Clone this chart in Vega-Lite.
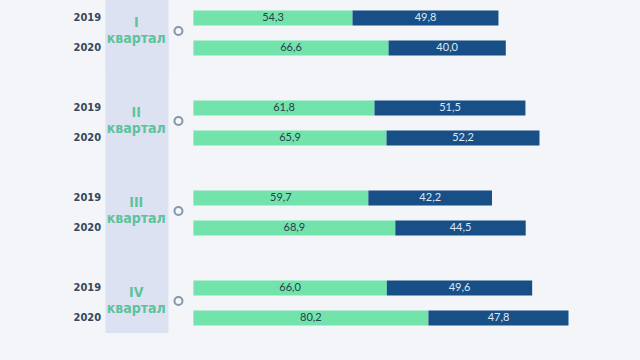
{
  "$schema": "https://vega.github.io/schema/vega-lite/v6.json",
  "width": 640,
  "height": 360,
  "autosize": {"type": "none"},
  "padding": 0,
  "background": "#f3f5f8",
  "config": {
    "view": {"stroke": null},
    "locale": {"number": {"decimal": ",", "thousands": " ", "grouping": [3], "currency": ["", ""]}}
  },
  "datasets": {
    "bars": [
      {"quarter": "I", "year": "2019", "series": "a", "value": 54.3},
      {"quarter": "I", "year": "2019", "series": "b", "value": 49.8},
      {"quarter": "I", "year": "2020", "series": "a", "value": 66.6},
      {"quarter": "I", "year": "2020", "series": "b", "value": 40.0},
      {"quarter": "II", "year": "2019", "series": "a", "value": 61.8},
      {"quarter": "II", "year": "2019", "series": "b", "value": 51.5},
      {"quarter": "II", "year": "2020", "series": "a", "value": 65.9},
      {"quarter": "II", "year": "2020", "series": "b", "value": 52.2},
      {"quarter": "III", "year": "2019", "series": "a", "value": 59.7},
      {"quarter": "III", "year": "2019", "series": "b", "value": 42.2},
      {"quarter": "III", "year": "2020", "series": "a", "value": 68.9},
      {"quarter": "III", "year": "2020", "series": "b", "value": 44.5},
      {"quarter": "IV", "year": "2019", "series": "a", "value": 66.0},
      {"quarter": "IV", "year": "2019", "series": "b", "value": 49.6},
      {"quarter": "IV", "year": "2020", "series": "a", "value": 80.2},
      {"quarter": "IV", "year": "2020", "series": "b", "value": 47.8}
    ],
    "quarters": [
      {"quarter": "I", "label": "I\nквартал"},
      {"quarter": "II", "label": "II\nквартал"},
      {"quarter": "III", "label": "III\nквартал"},
      {"quarter": "IV", "label": "IV\nквартал"}
    ],
    "band": [{"name": "band"}]
  },
  "layer": [
    {
      "data": {"name": "band"},
      "mark": {"type": "rect", "color": "#dde2f3"},
      "encoding": {
        "x": {"datum": -30, "type": "quantitative", "scale": {"domain": [-66, 152.4], "nice": false, "zero": false}, "axis": null},
        "x2": {"datum": -8.5},
        "y": {"datum": "IV", "type": "nominal", "bandPosition": 0.833, "scale": {"domain": ["I", "II", "III", "IV"], "range": [-12, 348], "paddingInner": 0, "paddingOuter": 0}, "axis": null},
        "y2": {"datum": "I"}
      }
    },
    {
      "data": {"name": "quarters"},
      "transform": [{"filter": "datum.quarter === 'I'"}],
      "mark": {"type": "rect", "color": "#dde2f3"},
      "encoding": {
        "x": {"datum": -30, "type": "quantitative"},
        "x2": {"datum": -8.5},
        "y": {"field": "quarter", "type": "nominal"}
      }
    },
    {
      "data": {"name": "quarters"},
      "mark": {"type": "text", "font": "DejaVu Sans Condensed, Roboto Condensed, Roboto, sans-serif", "fontWeight": "bold", "fontSize": 14, "lineBreak": "\n", "lineHeight": 16, "color": "#5cc39c", "align": "center", "baseline": "middle", "dy": -10},
      "encoding": {
        "x": {"datum": -19.5, "type": "quantitative"},
        "y": {"field": "quarter", "type": "nominal"},
        "text": {"field": "label"}
      }
    },
    {
      "data": {"name": "quarters"},
      "mark": {"type": "point", "shape": "circle", "filled": false, "fill": "#f5f7fa", "stroke": "#8597ab", "strokeWidth": 2, "size": 64, "opacity": 1, "yOffset": -2},
      "encoding": {
        "x": {"datum": -5.1, "type": "quantitative"},
        "y": {"field": "quarter", "type": "nominal"}
      }
    },
    {
      "data": {"name": "bars"},
      "transform": [
        {"filter": "datum.series === 'a'"}
      ],
      "mark": {"type": "text", "font": "DejaVu Sans Condensed, Roboto Condensed, Roboto, sans-serif", "fontWeight": "bold", "fontSize": 11, "color": "#34485c", "align": "center", "baseline": "middle"},
      "encoding": {
        "x": {"datum": -36.2, "type": "quantitative"},
        "y": {"field": "quarter", "type": "nominal"},
        "yOffset": {"field": "year", "type": "nominal", "scale": {"paddingInner": 0.5, "paddingOuter": 0.75}},
        "text": {"field": "year"}
      }
    },
    {
      "data": {"name": "bars"},
      "transform": [
        {"stack": "value", "groupby": ["quarter", "year"], "sort": [{"field": "series", "order": "ascending"}], "as": ["v0", "v1"]},
        {"calculate": "(datum.v0 + datum.v1) / 2", "as": "mid"}
      ],
      "layer": [
        {
          "mark": {"type": "bar"},
          "encoding": {
            "x": {"field": "v0", "type": "quantitative"},
            "x2": {"field": "v1"},
            "y": {"field": "quarter", "type": "nominal"},
            "yOffset": {"field": "year", "type": "nominal"},
            "color": {"field": "series", "type": "nominal", "scale": {"domain": ["a", "b"], "range": ["#72e3ab", "#184f87"]}, "legend": null}
          }
        },
        {
          "mark": {"type": "text", "font": "Lato", "fontSize": 11, "align": "center", "baseline": "middle"},
          "encoding": {
            "x": {"field": "mid", "type": "quantitative"},
            "y": {"field": "quarter", "type": "nominal"},
            "yOffset": {"field": "year", "type": "nominal"},
            "text": {"field": "value", "type": "quantitative", "format": ".1f"},
            "color": {"condition": {"test": "datum.series === 'a'", "value": "#2a3d4f"}, "value": "#dfe9f4"}
          }
        }
      ]
    }
  ]
}
